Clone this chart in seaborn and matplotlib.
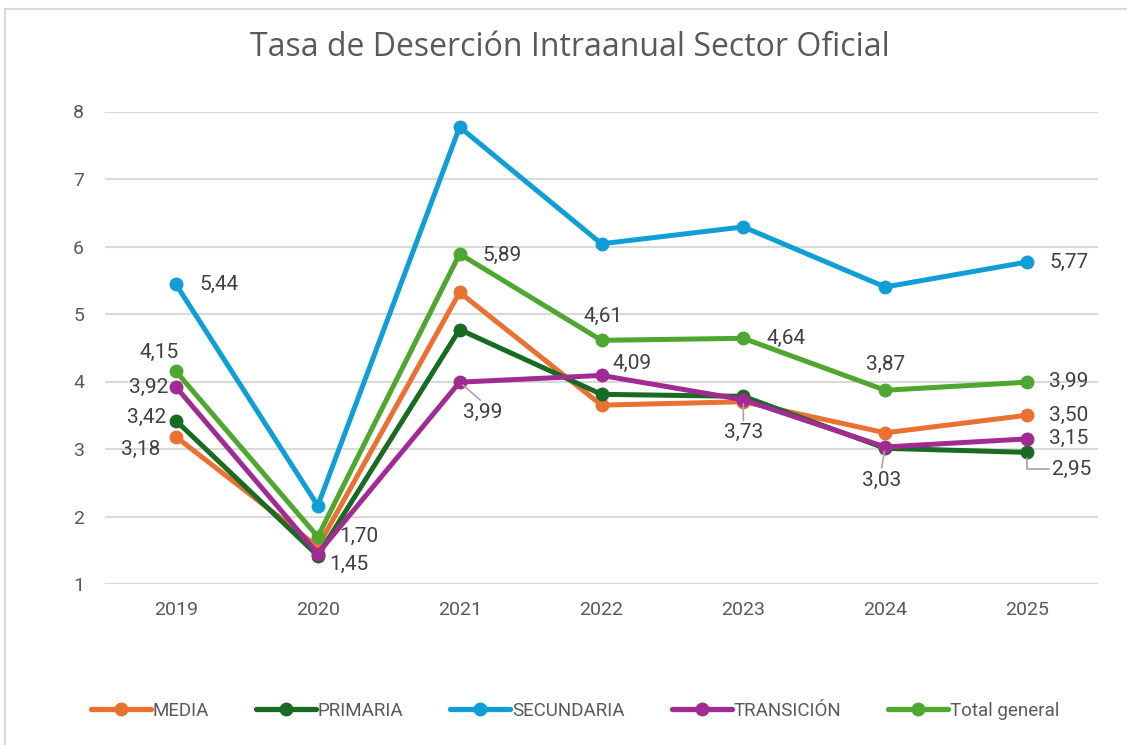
import matplotlib
matplotlib.use("Agg")
import matplotlib.pyplot as plt
import seaborn as sns
import pandas as pd
from matplotlib.lines import Line2D

years = ["2019", "2020", "2021", "2022", "2023", "2024", "2025"]
media = [3.18, 1.55, 5.32, 3.65, 3.70, 3.24, 3.50]
primaria = [3.42, 1.42, 4.77, 3.81, 3.78, 3.01, 2.95]
secundaria = [5.44, 2.16, 7.77, 6.04, 6.29, 5.40, 5.77]
transicion = [3.92, 1.45, 3.99, 4.09, 3.73, 3.03, 3.15]
total = [4.15, 1.70, 5.89, 4.61, 4.64, 3.87, 3.99]

series_names = ["MEDIA", "PRIMARIA", "SECUNDARIA", "TRANSICIÓN", "Total general"]
series_vals = [media, primaria, secundaria, transicion, total]
colors = ["#E97132", "#196B24", "#0F9ED5", "#A02B93", "#4EA72E"]

rows = []
for name, vals in zip(series_names, series_vals):
    for i, (y, v) in enumerate(zip(years, vals)):
        rows.append({"Año": y, "idx": i, "Serie": name, "Valor": v})
df = pd.DataFrame(rows)

sns.set_theme(style="white")
plt.rcParams["font.family"] = ["Roboto", "DejaVu Sans"]

fig = plt.figure(figsize=(11.27, 7.45), dpi=100)
ax = fig.add_axes([105 / 1127, 1 - 584 / 745, (1098 - 105) / 1127, (584 - 111.5) / 745])

for name, col in zip(series_names, colors):
    sub = df[df["Serie"] == name]
    sns.lineplot(data=sub, x="idx", y="Valor", ax=ax, color=col, lw=3.6,
                 marker="o", markersize=10, markeredgewidth=0, legend=False,
                 zorder=3)

ax.set_xlim(-0.5, 6.5)
ax.set_ylim(1, 8)
ax.set_yticks(range(1, 9))
ax.set_xticks(range(len(years)))
ax.set_xticklabels(years)
ax.set_xlabel("")
ax.set_ylabel("")
ax.grid(axis="y", color="#D9D9D9", lw=1.5, zorder=0)
ax.grid(axis="x", visible=False)
for s in ["top", "right", "left", "bottom"]:
    ax.spines[s].set_visible(False)
ax.tick_params(axis="both", length=0, labelsize=14, colors="#595959")
ax.tick_params(axis="y", pad=15)
ax.tick_params(axis="x", pad=12)

def fmt(v):
    return f"{v:.2f}".replace(".", ",")

lab_kw = dict(fontsize=15, color="#404040", textcoords="offset pixels", va="center")
# (series index, year index, dx, dy, ha, leader)
labels = [
    (2, 0, 24, 0, "left", False),
    (4, 0, -17, 19, "center", False),
    (3, 0, -8, 0, "right", False),
    (1, 0, -10, 3, "right", False),
    (0, 0, -16, -13, "right", False),
    (4, 1, 22, 0, "left", False),
    (3, 1, 12, -11, "left", False),
    (4, 2, 23, -1, "left", False),
    (3, 2, 23, -30, "center", True),
    (4, 3, 2, 24, "center", False),
    (3, 3, 31, 12, "center", False),
    (4, 4, 23, 0, "left", False),
    (3, 4, 0, -33, "center", True),
    (4, 5, 0, 26, "center", False),
    (3, 5, -4, -33, "center", True),
    (2, 6, 22, 0, "left", False),
    (4, 6, 22, 1, "left", False),
    (0, 6, 22, 0, "left", False),
    (3, 6, 22, 0, "left", False),
    (1, 6, 25, -17, "left", True),
]
for si, xi, dx, dy, ha, leader in labels:
    v = series_vals[si][xi]
    ax.annotate(fmt(v), xy=(xi, v), xytext=(dx, dy), ha=ha, zorder=5, **lab_kw)
    if leader:
        if si == 1 and xi == 6:
            ax.annotate("", xy=(xi, v), xytext=(dx - 3, dy),
                        textcoords="offset pixels",
                        arrowprops=dict(arrowstyle="-", color="#A6A6A6", lw=1.2,
                                        connectionstyle="angle,angleA=0,angleB=90,rad=0",
                                        shrinkA=0, shrinkB=4), zorder=4)
        else:
            ax.annotate("", xy=(xi, v), xytext=(dx * 0.9, dy + 12),
                        textcoords="offset pixels",
                        arrowprops=dict(arrowstyle="-", color="#A6A6A6", lw=1.2,
                                        shrinkA=0, shrinkB=3), zorder=4)

fig.text(570 / 1127, 1 - 48 / 745, "Tasa de Deserción Intraanual Sector Oficial",
         ha="center", va="center", fontsize=23, color="#595959",
         family=["Open Sans", "DejaVu Sans"])

handles = [Line2D([0], [0], color=c, lw=3.8, marker="o", markersize=10,
                  markeredgewidth=0) for c in colors]
leg = fig.legend(handles, series_names, loc="center", ncol=5,
                 bbox_to_anchor=(575 / 1127, 1 - 711 / 745), frameon=False,
                 fontsize=13.5, handlelength=3.2, handletextpad=0.1,
                 columnspacing=2.5, labelcolor="#595959")

fig.add_artist(Line2D([5 / 1127, 5 / 1127], [0, 1 - 9 / 745], color="#D9D9D9", lw=1.5))
fig.add_artist(Line2D([5 / 1127, 1], [1 - 9 / 745, 1 - 9 / 745], color="#D9D9D9", lw=1.5))

fig.savefig("out.png", dpi=100)
